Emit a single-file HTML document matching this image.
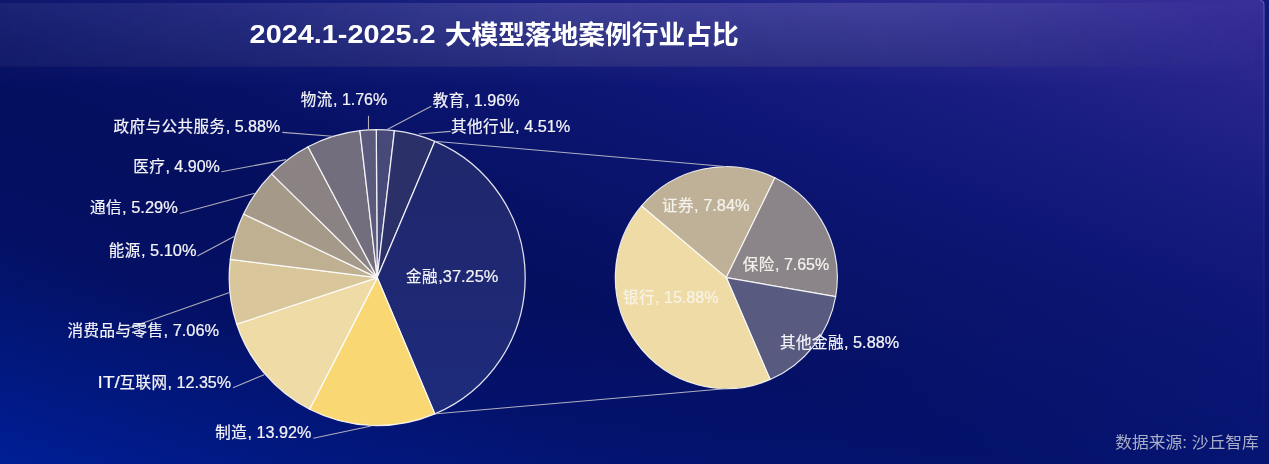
<!DOCTYPE html>
<html lang="zh-CN"><head><meta charset="utf-8"><title>2024.1-2025.2 大模型落地案例行业占比</title>
<style>
html,body{margin:0;padding:0;background:#0a146a;}
body{width:1269px;height:464px;overflow:hidden;font-family:"Liberation Sans","Noto Sans CJK SC",sans-serif;}
svg{display:block}
text{font-family:"Liberation Sans","Noto Sans CJK SC",sans-serif;white-space:pre}
</style></head><body>
<svg width="1269" height="464" viewBox="0 0 1269 464">
<defs>
<linearGradient id="bg" x1="1" y1="0" x2="0" y2="1">
<stop offset="0" stop-color="#382e98"/><stop offset="0.1" stop-color="#28258c"/><stop offset="0.22" stop-color="#181c80"/><stop offset="0.35" stop-color="#0d1674"/><stop offset="0.5" stop-color="#071267"/><stop offset="0.6" stop-color="#050f5f"/><stop offset="0.75" stop-color="#041064"/><stop offset="0.88" stop-color="#01177a"/><stop offset="1" stop-color="#001e92"/>
</linearGradient>
<linearGradient id="hd" x1="0" y1="0" x2="1" y2="0">
<stop offset="0" stop-color="#fff" stop-opacity="0.4"/><stop offset="0.2" stop-color="#fff" stop-opacity="0.6"/><stop offset="0.45" stop-color="#fff" stop-opacity="1"/><stop offset="0.7" stop-color="#fff" stop-opacity="0.8"/><stop offset="0.88" stop-color="#fff" stop-opacity="0.28"/><stop offset="1" stop-color="#fff" stop-opacity="0"/>
</linearGradient>
<mask id="mh" maskUnits="userSpaceOnUse" x="0" y="0" width="1269" height="70"><rect x="0" y="0" width="1264.5" height="70" fill="url(#hd)"/></mask>
<linearGradient id="tg" x1="0" y1="0" x2="0" y2="1">
<stop offset="0" stop-color="#9682e6" stop-opacity="0.09"/><stop offset="0.73" stop-color="#9682e6" stop-opacity="0.05"/><stop offset="1" stop-color="#9682e6" stop-opacity="0"/>
</linearGradient>
<linearGradient id="tgm" x1="0" y1="0" x2="1" y2="0">
<stop offset="0" stop-color="#fff" stop-opacity="0.5"/><stop offset="0.35" stop-color="#fff" stop-opacity="1"/><stop offset="0.8" stop-color="#fff" stop-opacity="1"/><stop offset="1" stop-color="#fff" stop-opacity="0.15"/>
</linearGradient>
<mask id="mt" maskUnits="userSpaceOnUse" x="0" y="0" width="1269" height="92"><rect x="0" y="0" width="1264.5" height="92" fill="url(#tgm)"/></mask>
<linearGradient id="bt" gradientUnits="userSpaceOnUse" x1="0" y1="290" x2="0" y2="464">
<stop offset="0" stop-color="#001ea0" stop-opacity="0"/><stop offset="1" stop-color="#001ea0" stop-opacity="0.2"/>
</linearGradient>
<linearGradient id="fin" gradientUnits="userSpaceOnUse" x1="0" y1="135" x2="0" y2="420">
<stop offset="0" stop-color="#1f276c"/><stop offset="0.5" stop-color="#1f2872"/><stop offset="1" stop-color="#1d2c7c"/>
</linearGradient>
<linearGradient id="hv" x1="0" y1="0" x2="0" y2="1">
<stop offset="0" stop-color="#00003a" stop-opacity="0"/><stop offset="1" stop-color="#00003a" stop-opacity="0.2"/>
</linearGradient>
<linearGradient id="bd" x1="0" y1="0" x2="0" y2="1">
<stop offset="0" stop-color="#8c8cd8" stop-opacity="0.45"/><stop offset="0.5" stop-color="#8c8cd8" stop-opacity="0.12"/><stop offset="1" stop-color="#8c8cd8" stop-opacity="0"/>
</linearGradient>
<linearGradient id="rs" x1="0" y1="0" x2="0" y2="1">
<stop offset="0" stop-color="#101a7c"/><stop offset="0.5" stop-color="#0c1670"/><stop offset="1" stop-color="#0a1470"/>
</linearGradient>
</defs>
<rect width="1269" height="464" fill="url(#rs)"/>
<path d="M0 0H1260.5A4 4 0 0 1 1264.5 4V464H0Z" fill="url(#bg)"/>
<rect x="0" y="290" width="1264.5" height="174" fill="url(#bt)"/>
<g mask="url(#mt)"><rect x="0" y="0" width="1264.5" height="90" fill="url(#tg)"/></g>
<g mask="url(#mh)"><rect x="0" y="3" width="1264.5" height="63.5" fill="#f4ecff" fill-opacity="0.15"/>
<rect x="0" y="3" width="1264.5" height="63.5" fill="url(#hv)"/></g>
<path d="M1260 0.5A4 4 0 0 1 1264 4.5V464" fill="none" stroke="url(#bd)" stroke-width="1"/>
<g stroke="#ffffff" stroke-opacity="0.88" stroke-width="1.25" stroke-linejoin="round"><path d="M377.20 277.60L376.27 129.60A148.0 148.0 0 0 1 394.46 130.61Z" fill="#474a79"/><path d="M377.20 277.60L394.46 130.61A148.0 148.0 0 0 1 434.88 141.30Z" fill="#2b3069"/><path d="M377.20 277.60L434.88 141.30A148.0 148.0 0 0 1 434.88 413.90Z" fill="url(#fin)"/><path d="M377.20 277.60L434.88 413.90A148.0 148.0 0 0 1 309.58 409.25Z" fill="#f9d873"/><path d="M377.20 277.60L309.58 409.25A148.0 148.0 0 0 1 236.72 324.18Z" fill="#efdba6"/><path d="M377.20 277.60L236.72 324.18A148.0 148.0 0 0 1 230.33 259.37Z" fill="#d9c79b"/><path d="M377.20 277.60L230.33 259.37A148.0 148.0 0 0 1 243.55 214.03Z" fill="#bfb092"/><path d="M377.20 277.60L243.55 214.03A148.0 148.0 0 0 1 271.62 173.89Z" fill="#a5998a"/><path d="M377.20 277.60L271.62 173.89A148.0 148.0 0 0 1 308.02 146.77Z" fill="#8b8383"/><path d="M377.20 277.60L308.02 146.77A148.0 148.0 0 0 1 359.94 130.61Z" fill="#726e7e"/><path d="M377.20 277.60L359.94 130.61A148.0 148.0 0 0 1 376.27 129.60Z" fill="#5b5a7d"/></g>
<g stroke="#ffffff" stroke-opacity="0.88" stroke-width="1.15" stroke-linejoin="round"><path d="M726.30 277.60L641.52 205.95A111.0 111.0 0 0 1 774.91 177.81Z" fill="#bfb197"/><path d="M726.30 277.60L774.91 177.81A111.0 111.0 0 0 1 835.65 296.69Z" fill="#8b8489"/><path d="M726.30 277.60L835.65 296.69A111.0 111.0 0 0 1 770.15 379.57Z" fill="#585a80"/><path d="M726.30 277.60L770.15 379.57A111.0 111.0 0 0 1 641.52 205.95Z" fill="#efdba6"/></g>
<path d="M434.88 141.30L726.3 166.60000000000002M434.88 413.90L726.3 388.6" stroke="#b8b8c8" stroke-width="0.95" fill="none"/>
<g stroke="#adadbb" stroke-width="1.1" fill="none"><line x1="368.5" y1="115.8" x2="368.5" y2="129.2"/><line x1="431.2" y1="106.2" x2="387.2" y2="129.6"/><line x1="450.6" y1="131.4" x2="418.9" y2="134.0"/><line x1="221.4" y1="171.7" x2="286.2" y2="159.6"/><line x1="179.8" y1="213.5" x2="254.7" y2="193.3"/><line x1="197.4" y1="256.0" x2="234.5" y2="236.3"/><line x1="229.5" y1="292.5" x2="116.0" y2="332.5"/><line x1="233.0" y1="387.8" x2="264.1" y2="374.7"/><line x1="313.2" y1="438.2" x2="371.2" y2="426.0"/><line x1="282.3" y1="132.4" x2="332.4" y2="136.2"/></g>
<g font-size="16" stroke-width="0.22" stroke-linejoin="round"><text y="104.7" fill="#f4f4f8" stroke="#f4f4f8"><tspan x="300.8" font-size="15.5" letter-spacing="0.5">物流</tspan><tspan x="333.0" textLength="54.2" lengthAdjust="spacingAndGlyphs">, 1.76%</tspan></text><text y="106.2" fill="#f4f4f8" stroke="#f4f4f8"><tspan x="432.7" font-size="15.5" letter-spacing="0.5">教育</tspan><tspan x="464.9" textLength="54.8" lengthAdjust="spacingAndGlyphs">, 1.96%</tspan></text><text y="132.4" fill="#f4f4f8" stroke="#f4f4f8"><tspan x="450.9" font-size="15.5" letter-spacing="0.5">其他行业</tspan><tspan x="515.1" textLength="55.2" lengthAdjust="spacingAndGlyphs">, 4.51%</tspan></text><text y="132.4" fill="#f4f4f8" stroke="#f4f4f8"><tspan x="113.5" font-size="15.5" letter-spacing="0.5">政府与公共服务</tspan><tspan x="225.7" textLength="54.6" lengthAdjust="spacingAndGlyphs">, 5.88%</tspan></text><text y="171.5" fill="#f4f4f8" stroke="#f4f4f8"><tspan x="133.2" font-size="15.5" letter-spacing="0.5">医疗</tspan><tspan x="165.4" textLength="54.5" lengthAdjust="spacingAndGlyphs">, 4.90%</tspan></text><text y="212.7" fill="#f4f4f8" stroke="#f4f4f8"><tspan x="89.9" font-size="15.5" letter-spacing="0.5">通信</tspan><tspan x="122.1" textLength="55.7" lengthAdjust="spacingAndGlyphs">, 5.29%</tspan></text><text y="255.8" fill="#f4f4f8" stroke="#f4f4f8"><tspan x="108.8" font-size="15.5" letter-spacing="0.5">能源</tspan><tspan x="141.0" textLength="55.5" lengthAdjust="spacingAndGlyphs">, 5.10%</tspan></text><text y="335.6" fill="#f4f4f8" stroke="#f4f4f8"><tspan x="67.4" font-size="15.5" letter-spacing="0.5">消费品与零售</tspan><tspan x="163.6" textLength="55.5" lengthAdjust="spacingAndGlyphs">, 7.06%</tspan></text><text y="387.8" fill="#f4f4f8" stroke="#f4f4f8"><tspan x="97.6" textLength="22.2" lengthAdjust="spacingAndGlyphs">IT/</tspan><tspan x="119.4" font-size="15.5" letter-spacing="0.5">互联网</tspan><tspan x="167.6" textLength="63.5" lengthAdjust="spacingAndGlyphs">, 12.35%</tspan></text><text y="438.2" fill="#f4f4f8" stroke="#f4f4f8"><tspan x="215.3" font-size="15.5" letter-spacing="0.5">制造</tspan><tspan x="247.5" textLength="63.8" lengthAdjust="spacingAndGlyphs">, 13.92%</tspan></text><text y="281.7" fill="#f4f4f8" stroke="#f4f4f8"><tspan x="406.1" font-size="15.5" letter-spacing="0.5">金融</tspan><tspan x="438.3" textLength="60.1" lengthAdjust="spacingAndGlyphs">,37.25%</tspan></text><text y="210.8" fill="#f4f2ec" stroke="#f4f2ec"><tspan x="661.9" font-size="15.5" letter-spacing="0.5">证券</tspan><tspan x="694.1" textLength="55.5" lengthAdjust="spacingAndGlyphs">, 7.84%</tspan></text><text y="269.8" fill="#f4f2ec" stroke="#f4f2ec"><tspan x="742.8" font-size="15.5" letter-spacing="0.5">保险</tspan><tspan x="775.0" textLength="54.2" lengthAdjust="spacingAndGlyphs">, 7.65%</tspan></text><text y="302.8" fill="#f7f3e6" stroke="#f7f3e6"><tspan x="622.9" font-size="15.5" letter-spacing="0.5">银行</tspan><tspan x="655.1" textLength="63.4" lengthAdjust="spacingAndGlyphs">, 15.88%</tspan></text><text y="347.8" fill="#f4f4f8" stroke="#f4f4f8"><tspan x="779.9" font-size="15.5" letter-spacing="0.5">其他金融</tspan><tspan x="844.1" textLength="55.0" lengthAdjust="spacingAndGlyphs">, 5.88%</tspan></text></g>
<text font-size="26.67" font-weight="bold" fill="#ffffff"><tspan x="249.6" y="42.8" textLength="186" lengthAdjust="spacingAndGlyphs">2024.1-2025.2</tspan> <tspan x="444.7" y="43.6" textLength="294" lengthAdjust="spacingAndGlyphs">大模型落地案例行业占比</tspan></text>
<text x="1115.3" y="448.2" font-size="16" fill="#a9aec8" textLength="143.4" lengthAdjust="spacingAndGlyphs">数据来源: 沙丘智库</text>
</svg>
</body></html>
